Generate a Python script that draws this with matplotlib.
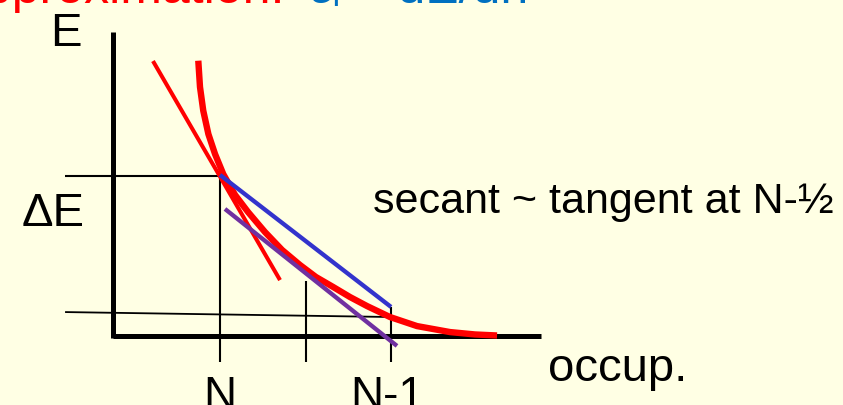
# =============================================================================
# SECANT vs TANGENT SKETCH  (E vs occupation)
# =============================================================================
import matplotlib.pyplot as plt

# =============================================================================
# DATOS  (x: ocupacion, N = 0, N-1 = 1 ; y: energia, eje = 0)
# =============================================================================

CURVE_X = [-0.127, -0.117, -0.098, -0.068, -0.029, 0.019, 0.088, 0.164,
           0.263, 0.363, 0.468, 0.561, 0.661, 0.760, 0.860, 0.994,
           1.152, 1.345, 1.491, 1.620]
CURVE_E = [1.610, 1.456, 1.318, 1.181, 1.064, 0.947, 0.825, 0.725,
           0.608, 0.503, 0.415, 0.345, 0.287, 0.228, 0.175, 0.111,
           0.058, 0.023, 0.009, 0.003]

TANGENT_N_X = [-0.392, 0.351]
TANGENT_N_E = [1.608, 0.327]

SECANT_X = [0.0, 1.0]
SECANT_E = [0.942, 0.170]

TANGENT_HALF_X = [0.029, 1.035]
TANGENT_HALF_E = [0.743, -0.058]

AXIS_Y_X = [-0.626, -0.626]
AXIS_Y_E = [1.778, -0.012]
AXIS_X_X = [-0.626, 1.877]
AXIS_X_E = [0.0, 0.0]

LEVEL_TOP_X = [-0.906, 0.035]
LEVEL_TOP_E = [0.936, 0.936]
LEVEL_LOW_X = [-0.906, 1.0]
LEVEL_LOW_E = [0.140, 0.111]

TICK_X = [0.0, 0.5, 1.0]
TICK_TOP = [0.936, 0.322, 0.170]
TICK_BOTTOM = -0.152

# =============================================================================
# ESTILO
# =============================================================================

BG = "#FFFFE4"
RED = "#FF0000"
BLUE = "#3333CC"
PURPLE = "#7030A0"
TITLE_BLUE = "#0070C0"
FONT = ["Liberation Sans", "DejaVu Sans"]

plt.rcParams["font.family"] = FONT

fig = plt.figure(figsize=(8.43, 4.06), dpi=100, facecolor=BG)
ax = fig.add_axes([0, 0, 1, 1])
ax.set_facecolor(BG)
ax.set_xlim(-1.2865, 3.643)
ax.set_ylim(-0.4035, 1.9708)
ax.axis("off")

# lineas finas de referencia
ax.plot(LEVEL_TOP_X, LEVEL_TOP_E, color="black", lw=1.5, solid_capstyle="butt")
ax.plot(LEVEL_LOW_X, LEVEL_LOW_E, color="black", lw=1.3, solid_capstyle="butt")
for x, top in zip(TICK_X, TICK_TOP):
    ax.plot([x, x], [top, TICK_BOTTOM], color="black", lw=1.5, solid_capstyle="butt")

# ejes
ax.plot(AXIS_Y_X, AXIS_Y_E, color="black", lw=3.6, solid_capstyle="butt")
ax.plot(AXIS_X_X, AXIS_X_E, color="black", lw=3.6, solid_capstyle="butt")

# curva y rectas
ax.plot(CURVE_X, CURVE_E, color=RED, lw=4.6, solid_capstyle="butt",
        solid_joinstyle="round")
ax.plot(TANGENT_N_X, TANGENT_N_E, color=RED, lw=2.9, solid_capstyle="butt")
ax.plot(SECANT_X, SECANT_E, color=BLUE, lw=3.1, solid_capstyle="butt")
ax.plot(TANGENT_HALF_X, TANGENT_HALF_E, color=PURPLE, lw=3.1, solid_capstyle="butt")

# textos (titulo cortado arriba, como en la diapositiva)
ax.text(0.38, 1.955, "approximation:", color=RED, fontsize=36, ha="right", va="baseline")
ax.text(0.526, 1.955, "ε\u1d62 = dE/dn", color=TITLE_BLUE, fontsize=36, ha="left", va="baseline")

ax.text(-0.994, 1.702, "E", fontsize=34, ha="left", va="baseline")
ax.text(-1.158, 0.649, "ΔE", fontsize=34, ha="left", va="baseline")
ax.text(0.895, 0.725, "secant ~ tangent at N-½", fontsize=31, ha="left", va="baseline")
ax.text(1.918, -0.257, "occup.", fontsize=34, ha="left", va="baseline")
ax.text(0.0, -0.421, "N", fontsize=33, ha="center", va="baseline")
ax.text(0.98, -0.421, "N-1", fontsize=33, ha="center", va="baseline")

fig.savefig("out.png", dpi=100, facecolor=BG)
